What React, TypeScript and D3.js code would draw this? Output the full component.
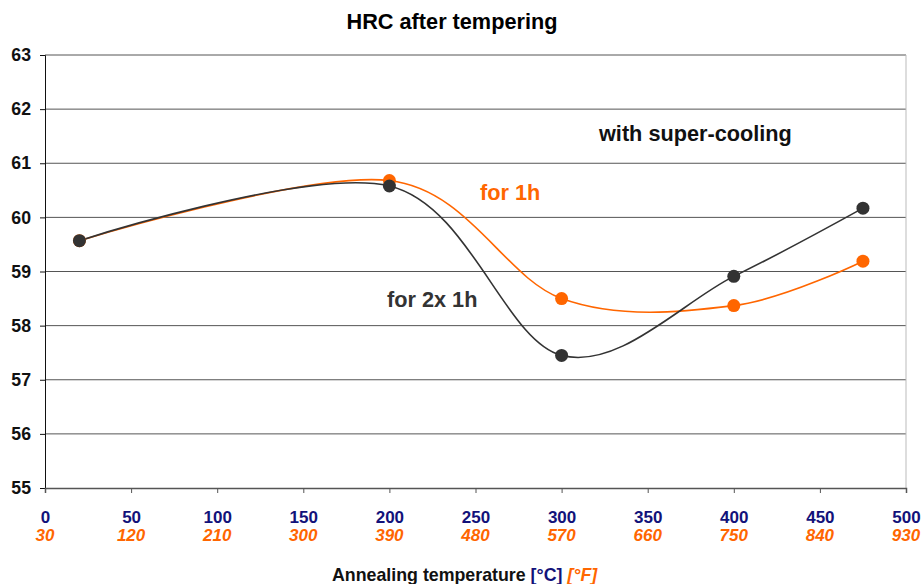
import React, { useEffect, useRef } from 'react';
import * as d3 from 'd3';

// temperatures in °C where hardness was measured
const tempsC = [20, 200, 300, 400, 475];
// HRC for 2x 1h tempering (dark line)
const hrcTwice = [59.57, 60.58, 57.45, 58.91, 60.17];
// HRC for 1h tempering (orange line)
const hrcOnce = [59.57, 60.68, 58.5, 58.37, 59.19];

const ticksC = [0, 50, 100, 150, 200, 250, 300, 350, 400, 450, 500];
const ticksF = ['30', '120', '210', '300', '390', '480', '570', '660', '750', '840', '930'];
const ticksHRC = [55, 56, 57, 58, 59, 60, 61, 62, 63];

const W = 921, H = 584;
const margin = { left: 45, right: 15, top: 55, bottom: 96 };
const FONT = '"Liberation Sans", Arial, sans-serif';
const DARK = '#333333';
const ORANGE = '#ff6600';
const NAVY = '#12127a';

export default function App() {
  const ref = useRef<SVGSVGElement>(null);

  useEffect(() => {
    const svg = d3.select(ref.current);
    svg.selectAll('*').remove();

    const x = d3.scaleLinear().domain([0, 500]).range([margin.left, W - margin.right]);
    const y = d3.scaleLinear().domain([55, 63]).range([H - margin.bottom, margin.top]);

    // title
    svg.append('text')
      .attr('x', 452).attr('y', 29)
      .attr('text-anchor', 'middle')
      .style('font', `bold 21.7px ${FONT}`)
      .text('HRC after tempering');

    // gridlines
    svg.append('g')
      .selectAll('line')
      .data(ticksHRC.slice(1))
      .enter().append('line')
      .attr('x1', x(0)).attr('x2', x(500))
      .attr('y1', (d) => y(d)).attr('y2', (d) => y(d))
      .attr('stroke', '#555').attr('stroke-width', 1);

    // right border
    svg.append('line')
      .attr('x1', x(500)).attr('x2', x(500))
      .attr('y1', y(63)).attr('y2', y(55))
      .attr('stroke', '#bbb');

    // y axis
    const yAxis = svg.append('g')
      .attr('transform', `translate(${x(0)},0)`)
      .call(d3.axisLeft(y).tickValues(ticksHRC).tickSize(5).tickPadding(9).tickFormat(d3.format('d')));
    yAxis.select('.domain').attr('stroke', '#111');
    yAxis.selectAll('.tick line').attr('stroke', '#111');
    yAxis.selectAll('text')
      .style('font', `bold 17.7px ${FONT}`).attr('fill', '#111');

    // x axis
    const xAxis = svg.append('g')
      .attr('transform', `translate(0,${y(55)})`)
      .call(d3.axisBottom(x).tickValues(ticksC).tickSize(5).tickPadding(18).tickFormat(d3.format('d')));
    xAxis.select('.domain').attr('stroke', '#555').attr('stroke-width', 1.5);
    xAxis.selectAll('.tick line').attr('stroke', '#555');
    xAxis.selectAll('text')
      .style('font', `bold 17px ${FONT}`).attr('fill', NAVY);

    // °F labels
    svg.append('g')
      .selectAll('text')
      .data(ticksC)
      .enter().append('text')
      .attr('x', (d) => x(d)).attr('y', 541)
      .attr('text-anchor', 'middle')
      .style('font', `italic bold 17px ${FONT}`)
      .attr('fill', ORANGE)
      .text((d, i) => ticksF[i]);

    // axis title
    const title = svg.append('text')
      .attr('x', 332).attr('y', 581)
      .style('font', `bold 17.8px ${FONT}`);
    title.append('tspan').attr('fill', '#111').text('Annealing temperature ');
    title.append('tspan').attr('fill', NAVY).text('[°C] ');
    title.append('tspan').attr('fill', ORANGE).style('font-style', 'italic').text('[°F]');

    const line = d3.line<number>()
      .x((d, i) => x(tempsC[i]))
      .y((d) => y(d))
      .curve(d3.curveCardinal.tension(0));

    const series = [
      { values: hrcOnce, color: ORANGE },
      { values: hrcTwice, color: DARK },
    ];

    series.forEach((s) => {
      svg.append('path')
        .datum(s.values)
        .attr('d', line)
        .attr('fill', 'none')
        .attr('stroke', s.color)
        .attr('stroke-width', 1.6);
    });

    series.forEach((s) => {
      svg.append('g')
        .selectAll('circle')
        .data(s.values)
        .enter().append('circle')
        .attr('cx', (d, i) => x(tempsC[i]))
        .attr('cy', (d) => y(d))
        .attr('r', 6.5)
        .attr('fill', s.color);
    });

    // annotations
    svg.append('text')
      .attr('x', 599).attr('y', 141)
      .style('font', `bold 21.7px ${FONT}`).attr('fill', '#111')
      .text('with super-cooling');
    svg.append('text')
      .attr('x', 480).attr('y', 200)
      .style('font', `bold 21.7px ${FONT}`).attr('fill', ORANGE)
      .text('for 1h');
    svg.append('text')
      .attr('x', 387).attr('y', 307)
      .style('font', `bold 21.7px ${FONT}`).attr('fill', DARK)
      .text('for 2x 1h');
  }, []);

  return <svg ref={ref} width={W} height={H} style={{ display: 'block', position: 'absolute', left: 0, top: 0 }} />;
}
